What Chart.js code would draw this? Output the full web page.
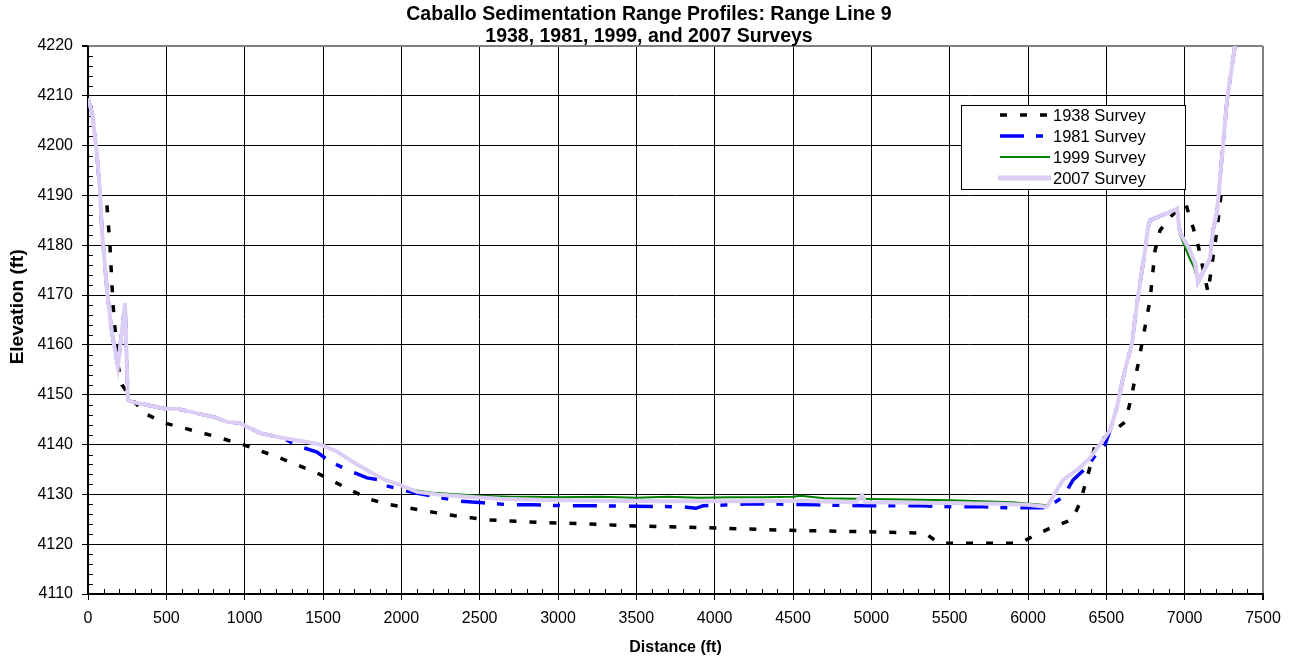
<!DOCTYPE html>
<html lang="en">
<head>
  <meta charset="UTF-8">
  <title>Caballo Sedimentation Range Profiles: Range Line 9</title>
  <script src="https://cdn.jsdelivr.net/npm/chart.js"></script>
  <style>
    body {
      margin: 0;
      background: #ffffff;
    }
    #wrap {
      position: relative;
      width: 1298px;
      height: 661px;
    }
  </style>
</head>
<body>
  <div id="wrap"><canvas id="profil"></canvas></div>

  <script>
    // survey data (distance ft / elevation ft)
    const dist1938 = [121, 140, 160, 191, 217, 281, 377, 491, 734, 989, 1225, 1462, 1685, 1800, 1915, 2043,
      2298, 2547, 2930, 3185, 3440, 3951, 4462, 4972, 5343, 5432, 5949, 6045, 6160, 6281, 6332, 6396,
      6428, 6619, 6651, 6702, 6747, 6779, 6811, 6843, 6919, 6990, 7010, 7079, 7149, 7206, 7232];
    const elev1938 = [4188, 4180, 4168, 4156, 4152, 4149, 4146, 4144.3, 4142.3, 4140, 4137.3, 4134.3, 4130.7, 4129, 4128, 4127.3,
      4125.9, 4124.9, 4124.3, 4124.1, 4123.7, 4123.3, 4122.8, 4122.5, 4122.2, 4120.2, 4120.2, 4121.8, 4123.5, 4124.9, 4128.3, 4135.5,
      4140, 4144.5, 4148.3, 4156, 4163.6, 4169, 4179, 4183, 4186, 4188, 4188, 4181, 4170.6, 4183, 4190];

    const dist1981 = [0, 26, 55, 77, 89, 121, 153, 191, 236, 255, 287, 400, 491, 568, 650, 734, 810, 894, 970, 1053, 1098, 1245,
      1340, 1462, 1513, 1564, 1672, 1781, 1845, 1883, 1991, 2100, 2228, 2355, 2521, 2694, 2841, 3057, 3223,
      3500, 3800, 3880, 3925, 4245, 4500, 4653, 4972, 5330, 5522, 5713, 5885, 6032, 6121,
      6224, 6288, 6377, 6440, 6492, 6524, 6568, 6607, 6664, 6696, 6747, 6766, 6779, 6951, 6970, 7034, 7066, 7085,
      7162, 7181, 7206, 7270, 7321, 7340];
    const elev1981 = [4209.5, 4206.5, 4199, 4190.5, 4183, 4171, 4162.4, 4155.6, 4168.4, 4149, 4148.5, 4147.8, 4147.2, 4147.2, 4146.6, 4146, 4145.5, 4144.5, 4144.3, 4143, 4142.3, 4141.3,
      4139.7, 4138.5, 4137.3, 4136.3, 4134.7, 4133.3, 4133, 4131.9, 4131, 4130.2, 4129.5, 4128.7, 4128.3, 4127.9, 4127.9, 4127.7, 4127.7,
      4127.6, 4127.5, 4127.2, 4127.7, 4128.1, 4128, 4127.9, 4127.7, 4127.7, 4127.5, 4127.5, 4127.3, 4127.3, 4127.3,
      4129.5, 4132.9, 4135.5, 4138.3, 4140, 4142.9, 4147.5, 4153.4, 4160.4, 4168.4, 4179, 4183.5, 4185, 4187.3, 4182.5, 4179, 4176.4, 4172.6,
      4177.4, 4183, 4186.5, 4209, 4220, 4224];

    const dist1999 = [0, 26, 55, 77, 89, 121, 153, 191, 236, 255, 287, 400, 491, 568, 650, 734, 810, 894, 970, 1053, 1098, 1245,
      1398, 1481, 1589, 1692, 1813, 1896, 1991, 2036, 2100, 2202, 2350, 2502, 2700, 2841, 3000, 3268, 3500, 3700, 3900,
      4100, 4300, 4500, 4550, 4700, 4900, 5100, 5300, 5500, 5700, 5900, 6050, 6121,
      6185, 6224, 6313, 6396, 6479, 6524, 6568, 6607, 6664, 6696, 6747, 6766, 6779, 6951, 6965, 7030, 7060, 7085,
      7162, 7181, 7206, 7270, 7321, 7340];
    const elev1999 = [4209.5, 4206.5, 4199, 4190.5, 4183, 4171, 4162.4, 4155.6, 4168.4, 4149, 4148.5, 4147.8, 4147.2, 4147.2, 4146.6, 4146, 4145.5, 4144.5, 4144.3, 4143, 4142.3, 4141.3,
      4140.5, 4140, 4138.6, 4136.5, 4134.3, 4132.9, 4132, 4131.3, 4130.8, 4130.3, 4130, 4129.7, 4129.5, 4129.5, 4129.4, 4129.5, 4129.3, 4129.5, 4129.3,
      4129.4, 4129.4, 4129.5, 4129.7, 4129.2, 4129.1, 4129, 4128.9, 4128.8, 4128.6, 4128.4, 4128, 4127.8,
      4130.9, 4132.9, 4134.9, 4137.3, 4140.9, 4142.9, 4147.5, 4153.4, 4160.4, 4168.4, 4179, 4183.5, 4185, 4187.3, 4182.5, 4177.5, 4175.5, 4172.6,
      4177.4, 4183, 4186.5, 4209, 4220, 4224];

    const dist2007 = [0, 26, 55, 77, 89, 121, 153, 191, 236, 255, 287, 400, 491, 568, 650, 734, 810, 894, 970, 1053, 1098, 1245,
      1398, 1481, 1589, 1692, 1813, 1896, 1991, 2100, 2247, 2419, 2630, 2841, 3268, 3700, 4200, 4500, 4900, 4941, 4960,
      5300, 5800, 5994, 6121, 6185, 6224, 6313, 6396, 6479, 6524, 6568, 6607, 6664, 6696, 6747, 6766, 6779, 6951, 6970,
      7034, 7066, 7085, 7162, 7181, 7206, 7270, 7321, 7340];
    const elev2007 = [4209.5, 4206.5, 4199, 4190.5, 4183, 4171, 4162.4, 4155.6, 4168.4, 4149, 4148.5, 4147.8, 4147.2, 4147.2, 4146.6, 4146, 4145.5, 4144.5, 4144.3, 4143, 4142.3, 4141.3,
      4140.5, 4140, 4138.6, 4136.5, 4134.3, 4132.9, 4131.9, 4130.5, 4129.9, 4129.5, 4129.1, 4128.9, 4128.7, 4128.6, 4128.6, 4128.7, 4128.4, 4129.8, 4128.4,
      4128.3, 4128.1, 4127.9, 4127.5, 4130.9, 4132.9, 4134.9, 4137.3, 4140.9, 4142.9, 4147.5, 4153.4, 4160.4, 4168.4, 4179, 4183.5, 4185, 4187.3, 4182.5,
      4179, 4176.4, 4172.6, 4177.4, 4183, 4186.5, 4209, 4220, 4224];

    const seriesLabels = ["1938 Survey", "1981 Survey", "1999 Survey", "2007 Survey"];
    const titleLines = ["Caballo Sedimentation Range Profiles: Range Line 9", "1938, 1981, 1999, and 2007 Surveys"];

    function points(xs, ys) {
      return xs.map((x, i) => ({ x: x, y: ys[i] }));
    }

    Chart.defaults.font.family = "'Liberation Sans', Arial, sans-serif";
    Chart.defaults.color = "#000";

    // small ticks between the labelled ones
    const minorTicks = {
      id: 'minorTicks',
      beforeDatasetsDraw(chart) {
        const { ctx, chartArea, scales } = chart;
        ctx.save();
        ctx.strokeStyle = '#000';
        ctx.lineWidth = 1;
        ctx.beginPath();
        for (let v = 100; v < 7500; v += 100) {
          if (v % 500 === 0) continue;
          const px = Math.round(scales.x.getPixelForValue(v)) + 0.5;
          ctx.moveTo(px, chartArea.bottom);
          ctx.lineTo(px, chartArea.bottom - 5);
        }
        for (let v = 4112; v < 4220; v += 2) {
          if (v % 10 === 0) continue;
          const py = Math.round(scales.y.getPixelForValue(v)) + 0.5;
          ctx.moveTo(chartArea.left, py);
          ctx.lineTo(chartArea.left + 5, py);
        }
        ctx.stroke();
        ctx.restore();
      }
    };

    // legend box like the spreadsheet one
    const boxLegend = {
      id: 'boxLegend',
      afterDraw(chart) {
        const ctx = chart.ctx;
        const x0 = 961, y0 = 105, w = 224, h = 84;
        ctx.save();
        ctx.fillStyle = '#fff';
        ctx.fillRect(x0, y0, w, h);
        ctx.strokeStyle = '#000';
        ctx.lineWidth = 1;
        ctx.strokeRect(x0 + 0.5, y0 + 0.5, w, h);
        chart.data.datasets.forEach((ds, i) => {
          const y = 115 + i * 21;
          ctx.beginPath();
          ctx.strokeStyle = ds.borderColor;
          ctx.lineWidth = i === 3 ? 5 : ds.borderWidth;
          ctx.setLineDash(ds.borderDash || []);
          ctx.moveTo(i === 3 ? 998 : 1000, y);
          ctx.lineTo(i === 3 ? 1051 : 1050, y);
          ctx.stroke();
          ctx.setLineDash([]);
          ctx.fillStyle = '#000';
          ctx.font = "16.5px 'Liberation Sans', Arial, sans-serif";
          ctx.textBaseline = 'middle';
          ctx.fillText(ds.label, 1053, y + 1);
        });
        ctx.restore();
      }
    };

    const plainNumber = v => String(v);

    const ctx = document.getElementById('profil').getContext('2d');
    const chart = new Chart(ctx, {
      type: 'scatter',
      data: {
        datasets: [
          {
            label: seriesLabels[0],
            data: points(dist1938, elev1938),
            borderColor: '#000000',
            borderWidth: 3.5,
            borderDash: [7, 13],
            order: 3
          },
          {
            label: seriesLabels[1],
            data: points(dist1981, elev1981),
            borderColor: '#0000FF',
            borderWidth: 3.5,
            borderDash: [24, 12, 7, 13],
            order: 2
          },
          {
            label: seriesLabels[2],
            data: points(dist1999, elev1999),
            borderColor: '#008000',
            borderWidth: 2,
            order: 1
          },
          {
            label: seriesLabels[3],
            data: points(dist2007, elev2007),
            borderColor: '#DCCDF5',
            borderWidth: 4,
            order: 0
          }
        ].map(ds => Object.assign(ds, { showLine: true, pointRadius: 0, tension: 0, fill: false }))
      },
      options: {
        responsive: true,
        maintainAspectRatio: false,
        animation: false,
        layout: { padding: 0 },
        plugins: {
          legend: { display: false },
          tooltip: { enabled: false },
          title: {
            display: true,
            text: titleLines,
            color: '#000',
            font: { size: 19.5, weight: 'bold', lineHeight: '22px' },
            padding: { top: 4, bottom: -2 }
          }
        },
        scales: {
          x: {
            type: 'linear',
            min: 0,
            max: 7500,
            afterFit(scale) { scale.height = 67; },
            ticks: { stepSize: 500, padding: 9, font: { size: 16 }, color: '#000', maxRotation: 0, callback: plainNumber },
            grid: {
              color: c => (c.tick && c.tick.value === 7500) ? '#808080' : '#000',
              lineWidth: c => (c.tick && c.tick.value === 7500) ? 2 : 1,
              tickLength: 6,
              tickColor: '#000'
            },
            border: { color: '#000', width: 1.5 },
            title: {
              display: true,
              text: 'Distance (ft)',
              font: { size: 16, weight: 'bold' },
              padding: { top: 0, bottom: 3.5 }
            }
          },
          y: {
            min: 4110,
            max: 4220,
            afterFit(scale) { scale.width = 88; },
            ticks: { stepSize: 10, padding: 9, font: { size: 16 }, color: '#000', callback: plainNumber },
            grid: {
              color: c => (c.tick && c.tick.value === 4220) ? '#808080' : '#000',
              lineWidth: c => (c.tick && c.tick.value === 4220) ? 2 : 1,
              tickLength: 6,
              tickColor: '#000'
            },
            border: { color: '#000', width: 1.5 },
            title: {
              display: true,
              text: '     Elevation (ft)',
              font: { size: 19, weight: 'bold' },
              padding: { top: 6, bottom: 0 }
            }
          },
          // empty strip on the right so the title is centred on the whole page
          yRight: {
            position: 'right',
            display: true,
            afterFit(scale) { scale.width = 35; },
            ticks: { display: false },
            grid: { display: false, drawTicks: false },
            border: { display: false }
          }
        }
      },
      plugins: [minorTicks, boxLegend]
    });
  </script>
</body>
</html>
